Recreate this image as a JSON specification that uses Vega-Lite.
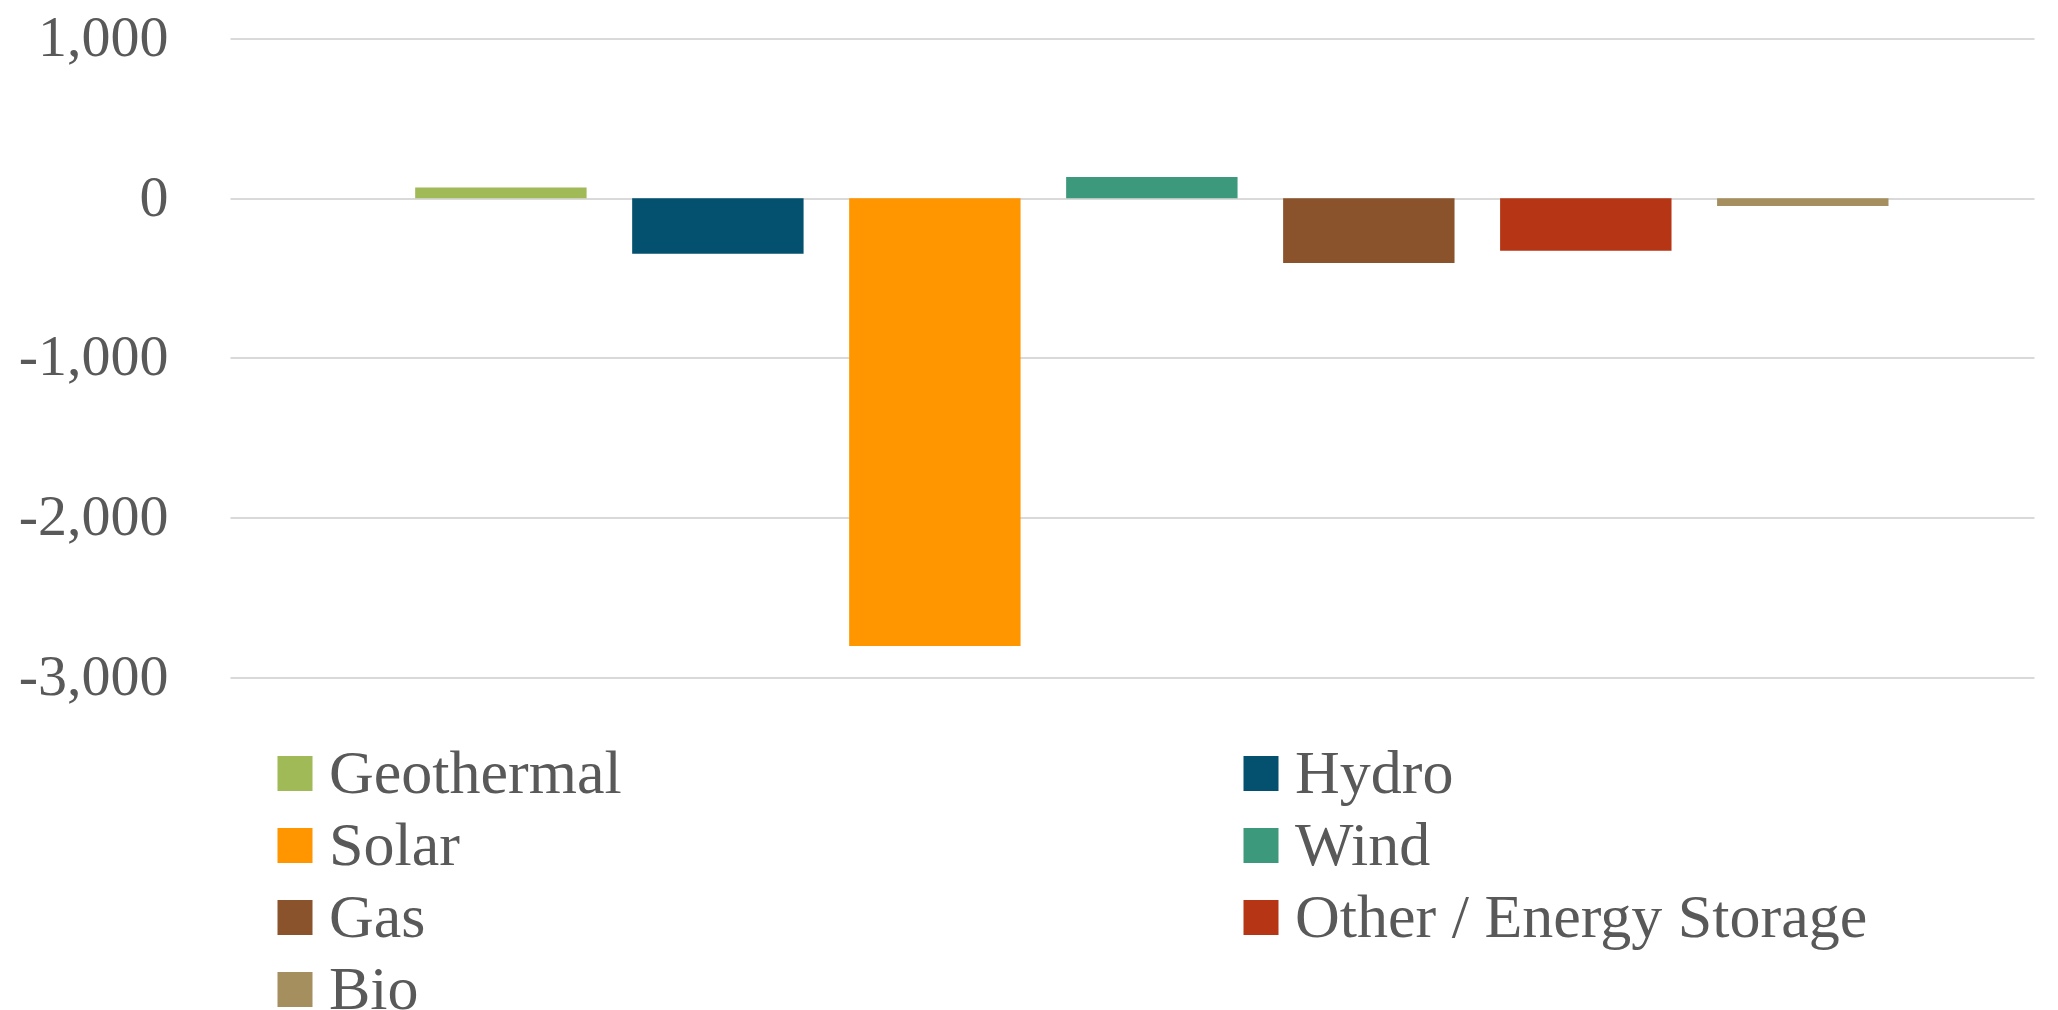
{
  "$schema": "https://vega.github.io/schema/vega-lite/v6.json",
  "width": 1804,
  "height": 638.5,
  "autosize": {"type": "none"},
  "padding": {"left": 230, "top": 38.5, "right": 24, "bottom": 333},
  "background": "white",
  "config": {
    "view": {"stroke": null},
    "font": "Liberation Serif"
  },
  "data": {
    "values": [
      {"source": "Geothermal", "value": 67},
      {"source": "Hydro", "value": -349},
      {"source": "Solar", "value": -2806},
      {"source": "Wind", "value": 132},
      {"source": "Gas", "value": -407},
      {"source": "Other / Energy Storage", "value": -330},
      {"source": "Bio", "value": -50}
    ]
  },
  "mark": {"type": "bar"},
  "encoding": {
    "x": {
      "field": "source",
      "type": "nominal",
      "sort": null,
      "axis": null,
      "scale": {"paddingInner": 0.21, "paddingOuter": 0.762, "align": 0.56}
    },
    "y": {
      "field": "value",
      "type": "quantitative",
      "scale": {"domain": [-3000, 1000], "nice": false, "zero": true},
      "axis": {
        "title": null,
        "values": [-3000, -2000, -1000, 0, 1000],
        "format": ",d",
        "labelExpr": "replace(datum.label, '\u2212', '-')",
        "domain": false,
        "ticks": false,
        "labelPadding": 62,
        "labelFont": "Liberation Serif",
        "labelFontSize": 58,
        "labelColor": "#595959",
        "gridColor": "#d9d9d9",
        "gridWidth": 2
      }
    },
    "color": {
      "field": "source",
      "type": "nominal",
      "sort": null,
      "scale": {
        "domain": ["Geothermal", "Hydro", "Solar", "Wind", "Gas", "Other / Energy Storage", "Bio"],
        "range": ["#9FBA57", "#03516F", "#FF9600", "#3C997B", "#8B532B", "#B53515", "#A68F5E"]
      },
      "legend": {
        "title": null,
        "orient": "none",
        "legendX": 34,
        "legendY": 704,
        "columns": 2,
        "direction": "horizontal",
        "symbolType": "square",
        "symbolSize": 1225,
        "symbolStrokeWidth": 0,
        "labelFont": "Liberation Serif",
        "labelFontSize": 62,
        "labelColor": "#595959",
        "labelOffset": 3,
        "labelLimit": 1000,
        "rowPadding": 10,
        "columnPadding": 608
      }
    }
  }
}
